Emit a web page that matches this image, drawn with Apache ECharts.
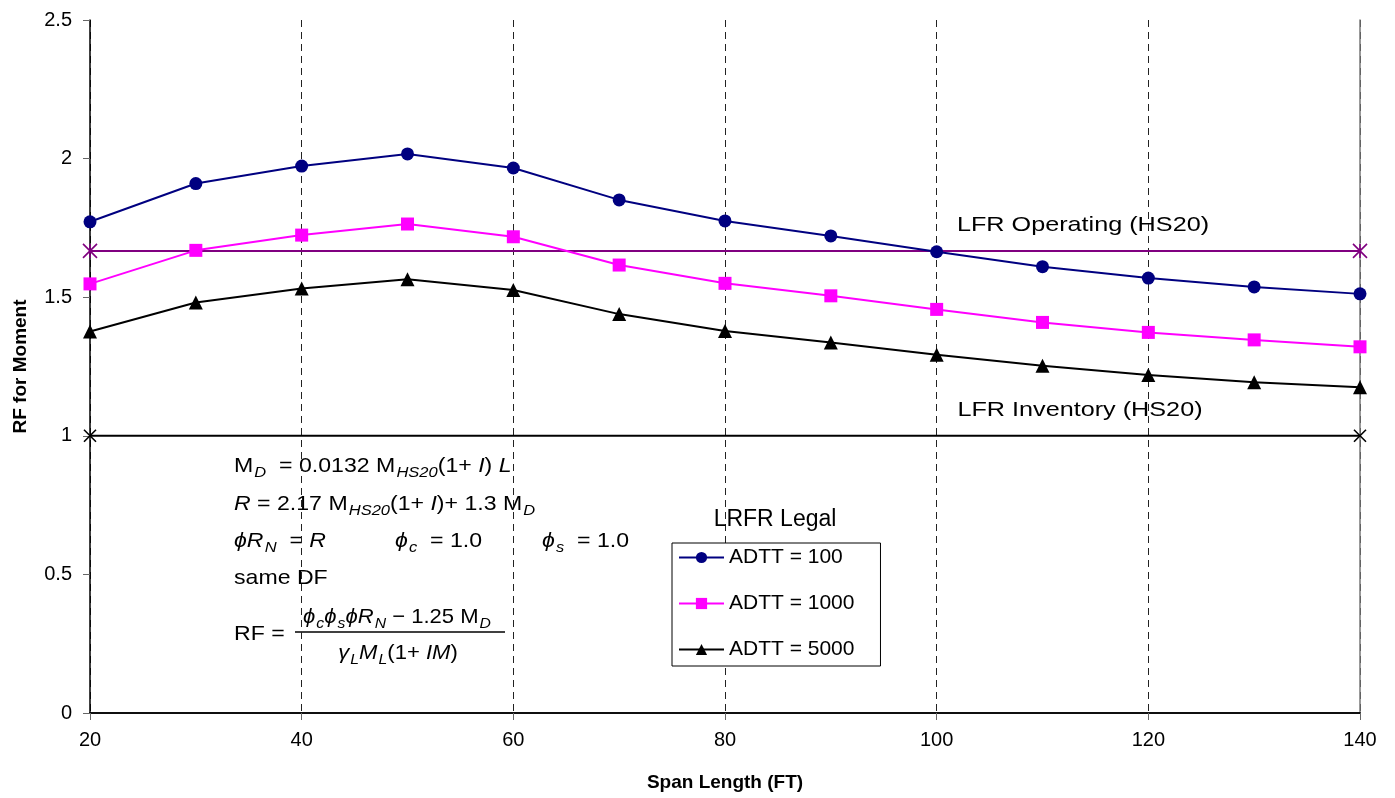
<!DOCTYPE html>
<html>
<head>
<meta charset="utf-8">
<script src="https://cdn.jsdelivr.net/npm/echarts@6/dist/echarts.min.js"></script>
<style>
html,body{margin:0;padding:0;background:#fff;}
#chart{width:1395px;height:798px;}
</style>
</head>
<body>
<div id="chart"></div>
<script>
const spans = [20, 30, 40, 50, 60, 70, 80, 90, 100, 110, 120, 130, 140];
const adtt100 = [1.772, 1.910, 1.973, 2.017, 1.966, 1.851, 1.775, 1.721, 1.664, 1.610, 1.569, 1.537, 1.512];
const adtt1000 = [1.548, 1.669, 1.724, 1.764, 1.718, 1.616, 1.550, 1.505, 1.456, 1.409, 1.373, 1.346, 1.321];
const adtt5000 = [1.376, 1.481, 1.531, 1.565, 1.526, 1.439, 1.378, 1.337, 1.292, 1.253, 1.219, 1.193, 1.175];
const lfrSpans = [20, 140];
const lfrOperating = [1.667, 1.667];
const lfrInventory = [1.0, 1.0];
const seriesNames = ['ADTT = 100', 'ADTT = 1000', 'ADTT = 5000'];
const xTicks = {min: 20, max: 140, interval: 20};
const yTicks = {min: 0, max: 2.5, interval: 0.5};

const FONT = '"Liberation Sans", Arial, sans-serif';
const pair = (xs, ys) => xs.map((x, i) => [x, ys[i]]);

const chart = echarts.init(document.getElementById('chart'), null, {renderer: 'canvas'});

const FS = 21;
const n = {fontSize: FS, fontFamily: FONT, color: '#000'};
const it = {fontSize: FS, fontFamily: FONT, fontStyle: 'italic', color: '#000'};
const sub = {fontSize: 15, fontFamily: FONT, fontStyle: 'italic', color: '#000', padding: [13, 0, 0, 1]};
const rich = {n: n, i: it, s: sub};

function ftext(x, y, text, sx) {
  return {type: 'text', x: x, y: y, scaleX: sx || 1.1, silent: true,
    style: {text: text, rich: rich, fill: '#000', font: FS + 'px ' + FONT, verticalAlign: 'middle', align: 'left'}};
}

const option = {
  animation: false,
  backgroundColor: '#fff',
  textStyle: {fontFamily: FONT},
  title: {
    text: 'LRFR Legal', left: 770, top: 503, textAlign: 'center',
    textStyle: {fontSize: 23, fontWeight: 'normal', color: '#000', fontFamily: FONT}
  },
  legend: {
    data: seriesNames,
    orient: 'vertical',
    left: 672, top: 543,
    borderColor: '#000', borderWidth: 1,
    padding: [4, 26, 6, 6],
    itemWidth: 45, itemHeight: 14, itemGap: 25,
    textStyle: {fontSize: 21, color: '#000', fontFamily: FONT},
    backgroundColor: '#fff'
  },
  grid: {left: 90, right: 35, top: 20, bottom: 85, outerBoundsMode: 'none', containLabel: false},
  xAxis: [{
    type: 'value', min: xTicks.min, max: xTicks.max, interval: xTicks.interval,
    name: 'Span Length (FT)', nameLocation: 'middle', nameGap: 60,
    nameTextStyle: {fontSize: 19, fontWeight: 'bold', color: '#000', fontFamily: FONT},
    axisLine: {show: true, onZero: false, lineStyle: {color: '#000', width: 1.5}},
    axisTick: {show: true, inside: false, length: 7, lineStyle: {color: '#666'}},
    axisLabel: {fontSize: 20, color: '#000', margin: 17, fontFamily: FONT},
    splitLine: {show: true, lineStyle: {color: '#222', type: [7, 5], width: 1}}
  }, {
    type: 'value', position: 'top', min: xTicks.min, max: xTicks.max, interval: xTicks.interval,
    axisLine: {show: true, lineStyle: {color: '#000', width: 1.5}},
    axisTick: {show: false}, axisLabel: {show: false}, splitLine: {show: false}
  }],
  yAxis: [{
    type: 'value', min: yTicks.min, max: yTicks.max, interval: yTicks.interval,
    name: 'RF for Moment', nameLocation: 'middle', nameGap: 60,
    nameTextStyle: {fontSize: 19, fontWeight: 'bold', color: '#000', fontFamily: FONT},
    axisLine: {show: true, onZero: false, lineStyle: {color: '#000', width: 1.5}},
    axisTick: {show: true, inside: false, length: 7, lineStyle: {color: '#666'}},
    axisLabel: {fontSize: 20, color: '#000', margin: 18, fontFamily: FONT},
    splitLine: {show: false}
  }, {
    type: 'value', position: 'right', min: yTicks.min, max: yTicks.max, interval: yTicks.interval,
    axisLine: {show: true, lineStyle: {color: '#777', width: 1.5}},
    axisTick: {show: false}, axisLabel: {show: false}, splitLine: {show: false}
  }],
  series: [
    {
      name: 'LFR Operating (HS20)', type: 'line', z: 1,
      data: pair(lfrSpans, lfrOperating),
      symbol: 'path://M0,0L10,10M10,0L0,10M5,0L5,10', symbolSize: 14,
      itemStyle: {color: 'rgba(0,0,0,0)', borderColor: '#800080', borderWidth: 1.6},
      lineStyle: {color: '#800080', width: 2}
    },
    {
      name: 'LFR Inventory (HS20)', type: 'line', z: 1,
      data: pair(lfrSpans, lfrInventory),
      symbol: 'path://M0,0L10,10M10,0L0,10', symbolSize: 12,
      itemStyle: {color: 'rgba(0,0,0,0)', borderColor: '#000', borderWidth: 1.6},
      lineStyle: {color: '#000', width: 2}
    },
    {
      name: seriesNames[0], type: 'line', z: 3,
      data: pair(spans, adtt100),
      symbol: 'circle', symbolSize: 13,
      itemStyle: {color: '#000080'},
      lineStyle: {color: '#000080', width: 2}
    },
    {
      name: seriesNames[1], type: 'line', z: 3,
      data: pair(spans, adtt1000),
      symbol: 'rect', symbolSize: 13,
      itemStyle: {color: '#FF00FF'},
      lineStyle: {color: '#FF00FF', width: 2}
    },
    {
      name: seriesNames[2], type: 'line', z: 3,
      data: pair(spans, adtt5000),
      symbol: 'triangle', symbolSize: 14,
      itemStyle: {color: '#000'},
      lineStyle: {color: '#000', width: 2}
    }
  ],
  graphic: [
    {type: 'text', x: 1083, y: 225, scaleX: 1.2, silent: true, style: {text: 'LFR Operating (HS20)', font: '21px ' + FONT, fill: '#000', align: 'center', verticalAlign: 'middle'}},
    {type: 'text', x: 1080, y: 410, scaleX: 1.2, silent: true, style: {text: 'LFR Inventory (HS20)', font: '21px ' + FONT, fill: '#000', align: 'center', verticalAlign: 'middle'}},
    ftext(234, 466, '{n|M}{s|D}{n|  = 0.0132 M}{s|HS20}{n|(1+ }{i|I}{n|) }{i|L}'),
    ftext(234, 504, '{i|R}{n| = 2.17 M}{s|HS20}{n|(1+ }{i|I}{n|)+ 1.3 M}{s|D}'),
    ftext(234, 541, '{i|ϕR}{s|N}{n|  = }{i|R}'),
    ftext(395, 541, '{i|ϕ}{s|c}{n|  = 1.0}'),
    ftext(542, 541, '{i|ϕ}{s|s}{n|  = 1.0}'),
    ftext(234, 578, '{n|same DF}'),
    ftext(234, 634, '{n|RF = }'),
    {type: 'text', x: 397, y: 617, scaleX: 1.05, silent: true, style: {text: '{i|ϕ}{s|c}{i|ϕ}{s|s}{i|ϕR}{s|N}{n| − 1.25 M}{s|D}', rich: rich, font: FS + 'px ' + FONT, align: 'center', verticalAlign: 'middle'}},
    {type: 'line', silent: true, shape: {x1: 295, y1: 632, x2: 505, y2: 632}, style: {stroke: '#000', lineWidth: 1.3}},
    {type: 'text', x: 398, y: 653, scaleX: 1.05, silent: true, style: {text: '{i|γ}{s|L}{i|M}{s|L}{n|(1+ }{i|IM}{n|)}', rich: rich, font: FS + 'px ' + FONT, align: 'center', verticalAlign: 'middle'}}
  ]
};
chart.setOption(option);
</script>
</body>
</html>
